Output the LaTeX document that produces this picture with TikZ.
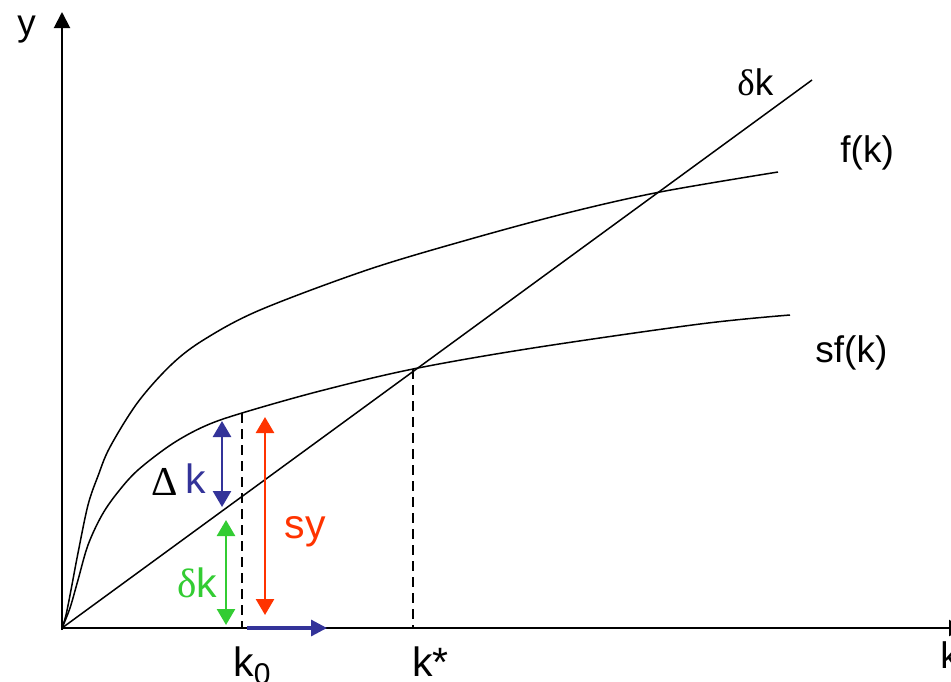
\documentclass[tikz,border=0pt]{standalone}
\usepackage{fontspec}
\setmainfont{Liberation Sans}
\newfontfamily\symfont{Liberation Serif}
\usetikzlibrary{arrows.meta}

\definecolor{dkblue}{RGB}{51,51,153}
\definecolor{ltgreen}{RGB}{51,204,51}
\definecolor{redorange}{RGB}{255,51,0}

\begin{document}
\begin{tikzpicture}[x=0.5pt,y=-0.5pt,>=Latex]
  \tikzstyle{axis}=[line width=1pt,-{Triangle[width=8pt,length=8pt]}]
  \tikzstyle{curve}=[line width=0.75pt]
  \tikzstyle{guide}=[line width=0.75pt,dash pattern=on 5pt off 3pt]
  \tikzstyle{gap}=[line width=1.3pt,{Triangle[width=9pt,length=8pt]}-{Triangle[width=9pt,length=8pt]}]
  \tikzstyle{movearrow}=[line width=1.6pt,-{Triangle[width=8pt,length=8pt]}]
  \tikzstyle{lbl}=[inner sep=0pt,anchor=base west,font=\fontsize{18.5}{20}\selectfont]
  \tikzstyle{biglbl}=[inner sep=0pt,anchor=base west,font=\fontsize{20.5}{22}\selectfont]

  \useasboundingbox (0,0) rectangle (951,681);

  % axes
  \coordinate (origin) at (62,628);
  \coordinate (ytop) at (62,12);
  \coordinate (kend) at (965,628);
  \draw[axis] (62,630) -- (ytop);
  \draw[axis] (origin) -- (kend);
  \node[lbl] (ylabel) at (17,35) {y};
  \node[lbl] (klabel) at (940,668) {k};

  % depreciation line and production curves
  \coordinate (dkend) at (812,80);
  \draw[curve] (origin) -- (dkend);
  \draw[curve] plot[smooth,tension=0.55] coordinates {(62,628) (66,615) (71,590) (78,553) (88,505)
    (98,476) (110,447) (138,402) (172,364) (205,339) (260,310) (367,270) (467,240) (567,213)
    (660,192) (778,172)};
  \draw[curve] plot[smooth,tension=0.55] coordinates {(62,628) (70,608) (78,580) (88,545) (102,515)
    (118,492) (138,470) (172,444) (205,426) (242,413) (320,391) (413,369) (533,348) (700,324)
    (790,315)};
  \node[lbl] (dklabel) at (737,95) {{\symfont δ}k};
  \node[lbl] (flabel) at (840,162) {f(k)};
  \node[lbl] (sflabel) at (815,362) {sf(k)};

  % steady state and k0 guides
  \coordinate (kstar) at (413,369);
  \coordinate (kstarbase) at (413,628);
  \coordinate (kzero) at (242,413);
  \coordinate (kzerobase) at (242,628);
  \draw[guide] (kstar) -- (kstarbase);
  \draw[guide] (kzero) -- (kzerobase);
  \node[biglbl] (kstarlabel) at (412,676) {k*};
  \node[biglbl] (kzerolabel) at (233,676) {k\raisebox{-4pt}{\fontsize{15}{15}\selectfont 0}};

  % gaps at k0
  \coordinate (dtop) at (222,421);
  \coordinate (dbot) at (222,507);
  \coordinate (gtop) at (226,520);
  \coordinate (gbot) at (226,625);
  \coordinate (rtop) at (265,417);
  \coordinate (rbot) at (265,615);
  \coordinate (hstart) at (247,628);
  \coordinate (hend) at (327,628);
  \draw[gap,dkblue] (dtop) -- (dbot);
  \draw[gap,ltgreen] (gtop) -- (gbot);
  \draw[gap,redorange] (rtop) -- (rbot);
  \draw[movearrow,dkblue] (hstart) -- (hend);

  \node[biglbl,anchor=base] (Deltalabel) at (165,495) {\symfont Δ};
  \node[biglbl,anchor=base,text=dkblue] (Dklabel) at (196,493) {k};
  \node[biglbl,anchor=base,text=ltgreen] (gklabel) at (197,597) {{\symfont δ}k};
  \node[biglbl,anchor=base,text=redorange] (sylabel) at (305,538) {sy};
\end{tikzpicture}
\end{document}
